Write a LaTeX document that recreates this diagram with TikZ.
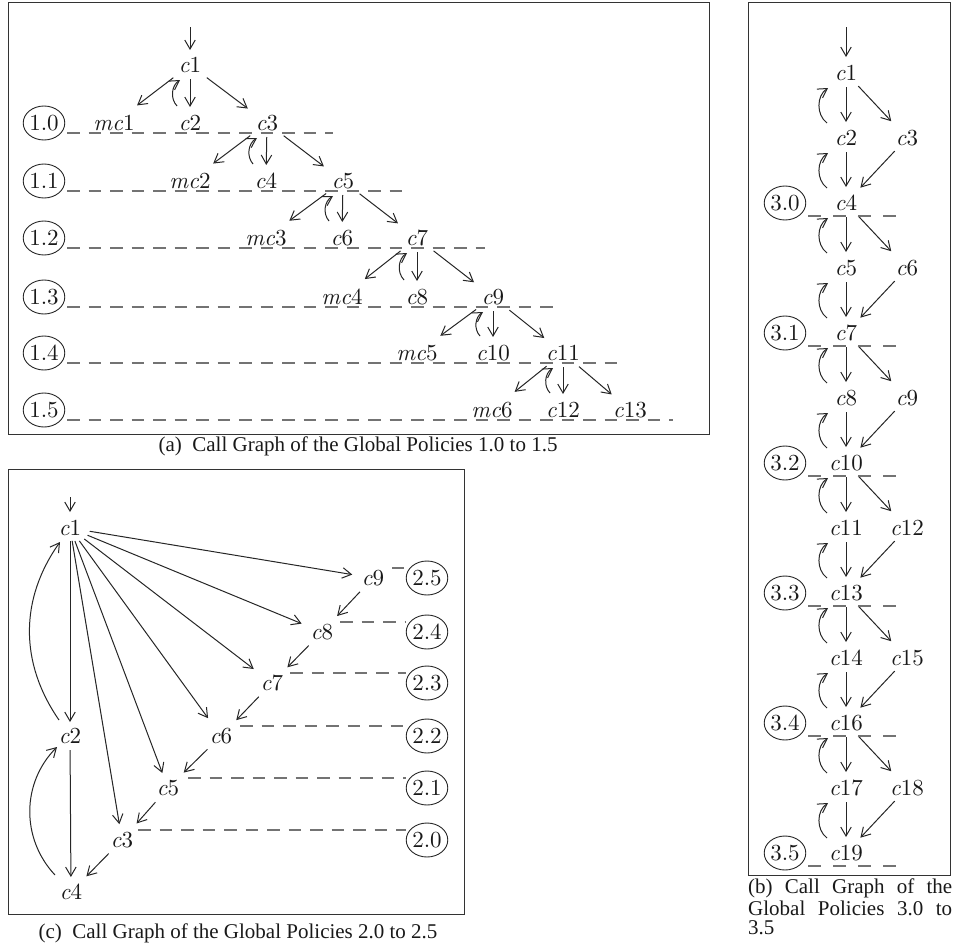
\documentclass[tikz,border=0pt]{standalone}
\usepackage{fontspec}
\setmainfont{lmroman10-regular.otf}[ItalicFont=lmroman10-italic.otf]
\newfontfamily\capfont{Liberation Serif}
\newcommand\vv[1]{\textit{#1}}
\usetikzlibrary{arrows.meta,shapes.geometric}
\begin{document}
\begin{tikzpicture}[x=1pt,y=1pt,
  every node/.style={font=\fontsize{23}{27}\selectfont, text=black!90, inner sep=0pt},
  arr/.style={draw=black!85, line width=1pt, -{Straight Barb[length=9pt,width=10.5pt]}},
  sh/.style 2 args={shorten <=#1pt, shorten >=#2pt},
  lvl/.style={ellipse, draw=black!85, line width=0.9pt, minimum width=40pt, minimum height=34pt, inner sep=0pt},
  dsh/.style={draw=black!55, line width=1.4pt, dash pattern=on 12.5pt off 9pt},
  dshb/.style={draw=black!55, line width=1.4pt, dash pattern=on 13pt off 12pt},
  frame/.style={draw=black!80, line width=1pt},
  captxt/.style={font=\capfont\fontsize{21}{25}\selectfont, text=black!90}
]
\useasboundingbox (0,0) rectangle (953,-945);

% ---------------- frames
\draw[frame] (8,-2) rectangle (709,-434);
\draw[frame] (748,-2) rectangle (950,-875);
\draw[frame] (8,-469) rectangle (464,-914);

% ---------------- panel (a)
\node (a1) at (190,-65) {\vv{c}1};
\node (amc1) at (114,-123) {\vv{mc}1};
\node (ac2) at (190,-123) {\vv{c}2};
\node (ac3) at (267,-123) {\vv{c}3};
\node (amc2) at (190,-181) {\vv{mc}2};
\node (ac4) at (266,-181) {\vv{c}4};
\node (ac5) at (343,-181) {\vv{c}5};
\node (amc3) at (266,-238) {\vv{mc}3};
\node (ac6) at (342,-238) {\vv{c}6};
\node (ac7) at (417,-238) {\vv{c}7};
\node (amc4) at (342,-297) {\vv{mc}4};
\node (ac8) at (417,-297) {\vv{c}8};
\node (ac9) at (493,-297) {\vv{c}9};
\node (amc5) at (417,-353) {\vv{mc}5};
\node (ac10) at (493,-353) {\vv{c}10};
\node (ac11) at (563,-353) {\vv{c}11};
\node (amc6) at (492,-410) {\vv{mc}6};
\node (ac12) at (563,-410) {\vv{c}12};
\node (ac13) at (630,-410) {\vv{c}13};
\coordinate (a0) at (190,-27);
\draw[arr, shorten >=15pt] (a0) -- (a1.center);
\foreach \p/\l/\m/\r in {a1/amc1/ac2/ac3, ac3/amc2/ac4/ac5, ac5/amc3/ac6/ac7,
                         ac7/amc4/ac8/ac9, ac9/amc5/ac10/ac11, ac11/amc6/ac12/ac13}{
  \draw[arr, sh={21}{29}] (\p.center) -- (\l.center);
  \draw[arr, sh={14}{16}] (\p.center) -- (\m.center);
  \draw[arr, sh={21}{24}] (\p.center) -- (\r.center);
  \draw[arr] ([shift={(-13,17)}]\m.center) to[bend left=50] ([shift={(-10,-15)}]\p.center);
}
\foreach \n/\t/\y in {l10/1.0/123, l11/1.1/181, l12/1.2/238, l13/1.3/297, l14/1.4/353, l15/1.5/410}
  \node[lvl] (\n) at (44,-\y) {\t};
\foreach \y/\xe in {133/333, 191/410, 248/485, 307/557, 363/623, 420/673}
  \draw[dsh] (67,-\y) -- (\xe,-\y);

% ---------------- panel (b)
\foreach \n/\x/\y in {1/846/73, 2/846/138, 3/907/138, 4/846/203, 5/846/268, 6/907/268,
   7/846/333, 8/846/398, 9/907/398, 10/846/463, 11/846/528, 12/907/528,
   13/846/593, 14/846/658, 15/907/658, 16/846/723, 17/846/788, 18/907/788, 19/846/853}
  \node (bc\n) at (\x,-\y) {\vv{c}\n};
\coordinate (b0) at (846,-27);
\draw[arr, shorten >=16pt] (b0) -- (bc1.center);
\foreach \u/\d in {1/2, 2/4, 4/5, 5/7, 7/8, 8/10, 10/11, 11/13, 13/14, 14/16, 16/17, 17/19}{
  \draw[arr, sh={14}{16}] (bc\u.center) -- (bc\d.center);
  \draw[arr] ([shift={(-19,15)}]bc\d.center) to[bend left=55] ([shift={(-18,-15)}]bc\u.center);
}
\foreach \u/\d in {1/3, 4/6, 7/9, 10/12, 13/15, 16/18}
  \draw[arr, sh={18}{23}] (bc\u.center) -- (bc\d.center);
\foreach \u/\d in {3/4, 6/7, 9/10, 12/13, 15/16, 18/19}
  \draw[arr, sh={18}{21}] (bc\u.center) -- (bc\d.center);
\foreach \n/\t/\y in {l30/3.0/203, l31/3.1/333, l32/3.2/463, l33/3.3/593, l34/3.4/723, l35/3.5/853}{
  \node[lvl] (\n) at (785,-\y) {\t};
  \draw[dshb] (808,-\y-13) -- (900,-\y-13);
}

% ---------------- panel (c)
\node (cc1) at (70,-528) {\vv{c}1};
\node (cc2) at (70,-736) {\vv{c}2};
\node (cc3) at (122,-840) {\vv{c}3};
\node (cc4) at (71,-892) {\vv{c}4};
\node (cc5) at (168,-788) {\vv{c}5};
\node (cc6) at (221,-736) {\vv{c}6};
\node (cc7) at (272,-683) {\vv{c}7};
\node (cc8) at (322,-632) {\vv{c}8};
\node (cc9) at (373,-578) {\vv{c}9};
\coordinate (c0) at (70,-497);
\draw[arr, shorten >=16pt] (c0) -- (cc1.center);
\draw[arr, sh={13}{14}] (cc1.center) -- (cc2.center);
\draw[arr, sh={14}{15}] (cc2.center) -- (cc4.center);
\draw[arr, sh={20}{21}] (cc1.center) -- (cc9.center);
\draw[arr, sh={19}{22}] (cc1.center) -- (cc8.center);
\draw[arr, sh={18}{23}] (cc1.center) -- (cc7.center);
\draw[arr, sh={16}{22}] (cc1.center) -- (cc6.center);
\draw[arr, sh={14}{16}] (cc1.center) -- (cc5.center);
\draw[arr, sh={13}{16}] (cc1.center) -- (cc3.center);
\foreach \u/\d in {9/8, 8/7, 7/6, 6/5, 5/3, 3/4}
  \draw[arr, sh={19}{22}] (cc\u.center) -- (cc\d.center);
\draw[arr] ([shift={(-11,16)}]cc2.center) to[bend left=35] ([shift={(-10,-14)}]cc1.center);
\draw[arr] ([shift={(-16,17)}]cc4.center) to[bend left=44] ([shift={(-13,-11)}]cc2.center);
\foreach \n/\t/\y in {l25/2.5/578, l24/2.4/632, l23/2.3/683, l22/2.2/736, l21/2.1/788, l20/2.0/840}
  \node[lvl] (\n) at (427,-\y) {\t};
\draw[dsh] (392,-568) -- (404,-568);
\foreach \y/\xs in {622/340, 673/290, 726/240, 778/188, 830/138}
  \draw[dsh] (\xs,-\y) -- (406,-\y);

% ---------------- captions
\node[captxt] (capa) at (358,-446) {(a)\ \ Call Graph of the Global Policies 1.0 to 1.5};
\node[captxt, anchor=west] (capb1) at (748,-888) {\makebox[204pt][s]{(b)\hfill Call\hfill Graph\hfill of\hfill the}};
\node[captxt, anchor=west] (capb2) at (748,-908) {\makebox[204pt][s]{Global\hfill Policies\hfill 3.0\hfill to}};
\node[captxt, anchor=west] (capb3) at (748,-928) {3.5};
\node[captxt] (capc) at (238,-933) {(c)\ \ Call Graph of the Global Policies 2.0 to 2.5};
\end{tikzpicture}
\end{document}
